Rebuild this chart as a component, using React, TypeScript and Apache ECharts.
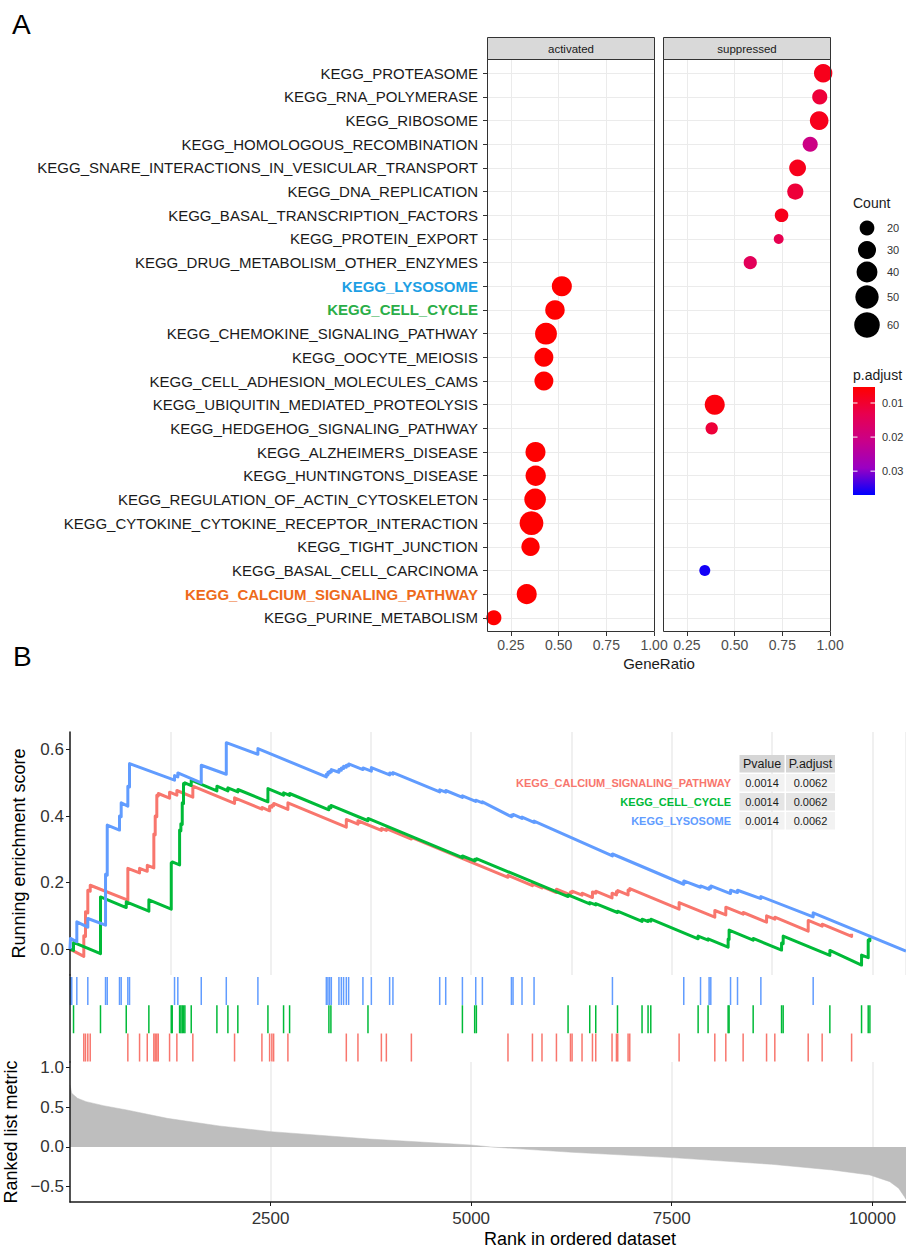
import React, { useEffect, useRef } from 'react';
import * as echarts from 'echarts';

const FONT = '"Liberation Sans", Arial, Helvetica, sans-serif';

// ---------------- Panel A data ----------------
const pathways = [
  'KEGG_PROTEASOME',
  'KEGG_RNA_POLYMERASE',
  'KEGG_RIBOSOME',
  'KEGG_HOMOLOGOUS_RECOMBINATION',
  'KEGG_SNARE_INTERACTIONS_IN_VESICULAR_TRANSPORT',
  'KEGG_DNA_REPLICATION',
  'KEGG_BASAL_TRANSCRIPTION_FACTORS',
  'KEGG_PROTEIN_EXPORT',
  'KEGG_DRUG_METABOLISM_OTHER_ENZYMES',
  'KEGG_LYSOSOME',
  'KEGG_CELL_CYCLE',
  'KEGG_CHEMOKINE_SIGNALING_PATHWAY',
  'KEGG_OOCYTE_MEIOSIS',
  'KEGG_CELL_ADHESION_MOLECULES_CAMS',
  'KEGG_UBIQUITIN_MEDIATED_PROTEOLYSIS',
  'KEGG_HEDGEHOG_SIGNALING_PATHWAY',
  'KEGG_ALZHEIMERS_DISEASE',
  'KEGG_HUNTINGTONS_DISEASE',
  'KEGG_REGULATION_OF_ACTIN_CYTOSKELETON',
  'KEGG_CYTOKINE_CYTOKINE_RECEPTOR_INTERACTION',
  'KEGG_TIGHT_JUNCTION',
  'KEGG_BASAL_CELL_CARCINOMA',
  'KEGG_CALCIUM_SIGNALING_PATHWAY',
  'KEGG_PURINE_METABOLISM',
];
const direction = [
  'suppressed', 'suppressed', 'suppressed', 'suppressed', 'suppressed', 'suppressed',
  'suppressed', 'suppressed', 'suppressed', 'activated', 'activated', 'activated',
  'activated', 'activated', 'suppressed', 'suppressed', 'activated', 'activated',
  'activated', 'activated', 'activated', 'suppressed', 'activated', 'activated',
];
const geneRatio = [
  0.964, 0.946, 0.943, 0.896, 0.83, 0.818, 0.746, 0.731, 0.582, 0.517, 0.481, 0.434,
  0.423, 0.423, 0.396, 0.38, 0.379, 0.38, 0.377, 0.358, 0.353, 0.344, 0.333, 0.161,
];
const geneCount = [31, 21, 32, 21, 26, 24, 17, 9, 16, 37, 35, 44, 33, 33, 37, 14, 37, 38, 43, 52, 31, 11, 37, 21];
const pAdjust = [
  0.008, 0.011, 0.008, 0.0205, 0.008, 0.011, 0.008, 0.0134, 0.0146, 0.0053, 0.0053, 0.0053,
  0.0053, 0.0053, 0.0065, 0.011, 0.0053, 0.0053, 0.0053, 0.0053, 0.0053, 0.036, 0.0053, 0.0053,
];
const highlightLabels: Record<string, { key: string; color: string }> = {
  KEGG_LYSOSOME: { key: 'lys', color: '#1D9FE4' },
  KEGG_CELL_CYCLE: { key: 'cc', color: '#2BAE48' },
  KEGG_CALCIUM_SIGNALING_PATHWAY: { key: 'ca', color: '#EE6A1B' },
};
const facets = ['activated', 'suppressed'];
const ratioTicks = [0.25, 0.5, 0.75, 1.0];
const countBreaks = [20, 30, 40, 50, 60];
const padjBreaks = [0.01, 0.02, 0.03];
const padjRange = [0.0053, 0.037];
const padjColors = ['#FF0000', '#E8004F', '#C90089', '#9A00C3', '#0000FF'];

// ---------------- Panel B data ----------------
const gseaNames = ['KEGG_CALCIUM_SIGNALING_PATHWAY', 'KEGG_CELL_CYCLE', 'KEGG_LYSOSOME'];
const gseaColors = ['#F8766D', '#00BA38', '#619CFF'];
const pvalues = ['0.0014', '0.0014', '0.0014'];
const padjusts = ['0.0062', '0.0062', '0.0062'];

const esCalcium = [
  [0, 0], [172, -0.022], [172, 0.04], [193, 0.038], [193, 0.112], [222, 0.109], [222, 0.177],
  [252, 0.174], [252, 0.192], [721, 0.147], [721, 0.243], [867, 0.229], [867, 0.243],
  [963, 0.234], [963, 0.252], [1045, 0.244], [1045, 0.346], [1062, 0.344], [1062, 0.4],
  [1082, 0.398], [1082, 0.463], [1100, 0.461], [1100, 0.468], [1241, 0.454], [1241, 0.472],
  [1332, 0.463], [1332, 0.477], [1531, 0.457], [1531, 0.49], [2051, 0.438], [2051, 0.455],
  [2392, 0.421], [2392, 0.426], [2488, 0.416], [2488, 0.43], [2516, 0.427], [2516, 0.433],
  [2538, 0.431], [2538, 0.438], [2716, 0.42], [2716, 0.44], [3444, 0.367], [3444, 0.39],
  [3589, 0.376], [3589, 0.386], [3881, 0.357], [3881, 0.363], [3943, 0.357], [3943, 0.362],
  [4255, 0.331], [4255, 0.336], [5459, 0.216], [5459, 0.222], [5764, 0.191], [5764, 0.196],
  [5883, 0.184], [5883, 0.188], [6063, 0.17], [6063, 0.18], [6238, 0.163], [6238, 0.172],
  [6258, 0.17], [6258, 0.174], [6382, 0.162], [6382, 0.168], [6512, 0.155], [6512, 0.172],
  [6553, 0.168], [6553, 0.174], [6756, 0.154], [6756, 0.168], [6811, 0.163], [6811, 0.173],
  [6827, 0.171], [6827, 0.176], [6956, 0.163], [6956, 0.178], [6977, 0.176], [6977, 0.182],
  [7592, 0.12], [7592, 0.14], [8037, 0.096], [8037, 0.116], [8174, 0.103], [8174, 0.126],
  [8390, 0.105], [8390, 0.11], [8682, 0.081], [8682, 0.1], [8785, 0.09], [8785, 0.096],
  [9201, 0.054], [9201, 0.086], [9375, 0.069], [9375, 0.075], [9742, 0.038], [9742, 0.046],
];
const esCellCycle = [
  [0, 0], [44, -0.004], [44, 0.02], [380, -0.014], [380, 0.157], [701, 0.125], [701, 0.142],
  [983, 0.114], [983, 0.148], [1262, 0.12], [1262, 0.26], [1274, 0.259], [1274, 0.262],
  [1366, 0.253], [1366, 0.358], [1382, 0.356], [1382, 0.377], [1399, 0.375], [1399, 0.44],
  [1415, 0.438], [1415, 0.498], [1432, 0.496], [1432, 0.5], [1511, 0.492], [1511, 0.508],
  [1831, 0.476], [1831, 0.49], [1968, 0.476], [1968, 0.485], [2092, 0.473], [2092, 0.48],
  [2467, 0.443], [2467, 0.483], [2662, 0.463], [2662, 0.47], [2737, 0.462], [2737, 0.468],
  [3227, 0.419], [3227, 0.428], [3252, 0.425], [3252, 0.432], [3714, 0.386], [3714, 0.393],
  [4891, 0.275], [4891, 0.28], [5044, 0.265], [5044, 0.27], [5065, 0.268], [5065, 0.272],
  [6208, 0.158], [6208, 0.163], [6478, 0.136], [6478, 0.14], [6553, 0.133], [6553, 0.137],
  [6824, 0.11], [6824, 0.114], [7130, 0.083], [7130, 0.09], [7205, 0.083], [7205, 0.087],
  [7239, 0.084], [7239, 0.09], [7829, 0.031], [7829, 0.039], [7953, 0.027], [7953, 0.031],
  [8203, 0.006], [8203, 0.03], [8215, 0.029], [8215, 0.057], [8515, 0.027], [8515, 0.032],
  [8869, -0.003], [8869, 0.018], [8889, 0.016], [8889, 0.039], [9471, -0.019], [9471, -0.004],
  [9866, -0.048], [9866, -0.018], [9949, -0.026], [9949, 0.027], [9970, 0.025], [9970, 0.035],
];
const esLysosome = [
  [0, 0], [6, 0], [6, 0.032], [85, 0.022], [85, 0.082], [222, 0.066], [222, 0.092],
  [443, 0.072], [443, 0.225], [464, 0.222], [464, 0.373], [617, 0.358], [617, 0.4],
  [638, 0.398], [638, 0.44], [721, 0.43], [721, 0.49], [742, 0.488], [742, 0.558],
  [1303, 0.508], [1303, 0.522], [1344, 0.518], [1344, 0.53], [1636, 0.5], [1636, 0.553],
  [1948, 0.526], [1948, 0.621], [2342, 0.586], [2342, 0.603], [3195, 0.518], [3195, 0.526],
  [3215, 0.524], [3215, 0.532], [3236, 0.53], [3236, 0.535], [3257, 0.533], [3257, 0.54],
  [3352, 0.532], [3352, 0.54], [3382, 0.538], [3382, 0.545], [3410, 0.543], [3410, 0.55],
  [3444, 0.547], [3444, 0.553], [3473, 0.551], [3473, 0.557], [3651, 0.54], [3651, 0.545],
  [3756, 0.535], [3756, 0.546], [3984, 0.524], [3984, 0.53], [4025, 0.526], [4025, 0.531],
  [4608, 0.473], [4608, 0.479], [4683, 0.472], [4683, 0.477], [4891, 0.456], [4891, 0.461],
  [5057, 0.444], [5057, 0.448], [5140, 0.44], [5140, 0.443], [5502, 0.398], [5502, 0.403],
  [5522, 0.401], [5522, 0.405], [5634, 0.393], [5634, 0.397], [5784, 0.381], [5784, 0.385],
  [6761, 0.28], [6761, 0.286], [7650, 0.195], [7650, 0.205], [7859, 0.186], [7859, 0.19],
  [7966, 0.18], [7966, 0.185], [7987, 0.183], [7987, 0.19], [8233, 0.167], [8233, 0.177],
  [8320, 0.17], [8320, 0.177], [8611, 0.152], [8611, 0.158], [9263, 0.097], [9263, 0.109],
  [10420, -0.006],
];

const hitsCalcium = [
  172, 193, 222, 252, 721, 867, 963, 1045, 1062, 1082, 1100, 1241, 1332, 1531, 2051, 2392,
  2488, 2516, 2538, 2716, 3444, 3589, 3881, 3943, 4255, 5459, 5764, 5883, 6063, 6238, 6258,
  6382, 6512, 6553, 6756, 6811, 6827, 6956, 6977, 7592, 8037, 8174, 8390, 8682, 8785, 9201,
  9375, 9742,
];
const hitsCellCycle = [
  44, 380, 701, 983, 1262, 1274, 1366, 1382, 1399, 1415, 1432, 1511, 1831, 1968, 2092, 2467,
  2662, 2737, 3227, 3252, 3714, 4891, 5044, 5065, 6208, 6478, 6553, 6824, 7130, 7205, 7239,
  7829, 7953, 8203, 8215, 8515, 8869, 8889, 9471, 9866, 9949, 9970,
];
const hitsLysosome = [
  6, 22, 85, 222, 443, 464, 617, 638, 721, 742, 1303, 1344, 1636, 1948, 2342, 3195, 3215,
  3236, 3257, 3352, 3382, 3410, 3444, 3473, 3651, 3756, 3984, 4025, 4608, 4683, 4891, 5057,
  5140, 5502, 5522, 5634, 5784, 6761, 7650, 7859, 7966, 7987, 8233, 8320, 8611, 9263,
];

const rankedMetric = [
  [0, 0.78], [22, 0.676], [94, 0.613], [202, 0.571], [418, 0.52], [707, 0.466], [1211, 0.361],
  [1860, 0.265], [2508, 0.193], [3734, 0.1], [4994, 0.025], [5247, 0], [6257, -0.067],
  [7504, -0.134], [8743, -0.218], [9500, -0.29], [9969, -0.353], [10218, -0.437],
  [10328, -0.52], [10400, -0.626], [10420, -0.66],
];

const esTicks = [0, 0.2, 0.4, 0.6];
const metricTicks = [-0.5, 0, 0.5, 1.0];
const rankTicks = [2500, 5000, 7500, 10000];
const rankMax = 10420;

// ---------------- helpers ----------------
const dotDiameter = (c: number) => 3.3 * Math.sqrt(c);
const padjToY = (v: number) => 387 + ((v - padjRange[0]) / (padjRange[1] - padjRange[0])) * 108;

function buildOption() {
  const idx = pathways.map((_, i) => i);
  const facetData = facets.map((f) =>
    idx.filter((i) => direction[i] === f).map((i) => [geneRatio[i], i, geneCount[i], pAdjust[i]])
  );

  const rich: Record<string, any> = {};
  Object.values(highlightLabels).forEach((h) => {
    rich[h.key] = { color: h.color, fontWeight: 'bold', fontSize: 15, fontFamily: FONT };
  });

  const yLabelFormatter = (v: number) => {
    if (!Number.isInteger(v)) return '';
    const name = pathways[v];
    if (!name) return '';
    const h = highlightLabels[name];
    return h ? `{${h.key}|${name}}` : name;
  };
  const ratioFormatter = (v: number) =>
    Math.abs(v * 4 - Math.round(v * 4)) < 1e-6 && v >= 0.25 ? v.toFixed(2) : '';

  const facetLeft = [487, 663];
  const facetWidth = 168;

  const grids: any[] = [
    { left: facetLeft[0], top: 59, width: facetWidth, height: 573 },
    { left: facetLeft[1], top: 59, width: facetWidth, height: 573 },
    { left: 70, top: 732, width: 836, height: 243 },
    { left: 70, top: 975, width: 836, height: 87 },
    { left: 70, top: 1062, width: 836, height: 140 },
  ].map((g) => ({ ...g, containLabel: false, outerBoundsMode: 'none', show: false }));

  const xAxes: any[] = facets.map((_, k) => ({
    gridIndex: k,
    type: 'value',
    min: 0.125,
    max: 1.005,
    interval: 0.125,
    axisLine: { show: false, onZero: false },
    axisTick: { show: true, customValues: ratioTicks, length: 4, lineStyle: { color: '#333', width: 1 } },
    axisLabel: {
      show: true,
      customValues: ratioTicks,
      formatter: ratioFormatter,
      fontSize: 14,
      color: '#4D4D4D',
      margin: 6,
      fontFamily: FONT,
      hideOverlap: false,
      showMinLabel: true,
      showMaxLabel: true,
    },
    splitLine: { show: true, lineStyle: { color: '#EBEBEB', width: 1 } },
  }));
  xAxes.push({
    gridIndex: 2, type: 'value', min: 0, max: rankMax, interval: 1250,
    axisLine: { show: false, onZero: false }, axisTick: { show: false }, axisLabel: { show: false },
    splitLine: { show: true, lineStyle: { color: '#EBEBEB', width: 1.5 } },
  });
  xAxes.push({
    gridIndex: 3, type: 'value', min: 0, max: rankMax, show: false,
    splitLine: { show: false },
  });
  xAxes.push({
    gridIndex: 4, type: 'value', min: 0, max: rankMax, interval: 1250,
    axisLine: { show: true, onZero: false, lineStyle: { color: '#1A1A1A', width: 1.5 } },
    axisTick: { show: true, customValues: rankTicks, length: 4, lineStyle: { color: '#1A1A1A', width: 1 } },
    axisLabel: {
      customValues: rankTicks, fontSize: 17, color: '#333', margin: 8, fontFamily: FONT,
      formatter: (v: number) => String(v), hideOverlap: false,
    },
    splitLine: { show: true, lineStyle: { color: '#EBEBEB', width: 1.5 } },
  });

  const yAxes: any[] = facets.map((_, k) => ({
    gridIndex: k,
    type: 'value',
    inverse: true,
    min: -0.6,
    max: 23.6,
    splitLine: { show: false },
    axisLine: { show: false, onZero: false },
    axisTick: { show: k === 0, customValues: idx, length: 4, lineStyle: { color: '#333', width: 1 } },
    axisLabel: {
      show: k === 0,
      customValues: idx,
      formatter: yLabelFormatter,
      fontSize: 15,
      color: '#1A1A1A',
      margin: 9,
      fontFamily: FONT,
      rich,
      hideOverlap: false,
    },
  }));
  yAxes.push({
    gridIndex: 2, type: 'value', min: -0.078, max: 0.653, z: 5,
    axisLine: { show: true, onZero: false, lineStyle: { color: '#1A1A1A', width: 1.5 } },
    axisTick: { show: true, customValues: esTicks, length: 4, lineStyle: { color: '#1A1A1A', width: 1 } },
    axisLabel: {
      customValues: esTicks, fontSize: 17, color: '#333', margin: 6, fontFamily: FONT,
      formatter: (v: number) => v.toFixed(1), hideOverlap: false,
    },
    splitLine: { show: false },
    name: 'Running enrichment score',
    nameLocation: 'middle',
    nameGap: 42,
    nameTextStyle: { fontSize: 18, color: '#000', fontFamily: FONT },
  });
  yAxes.push({
    gridIndex: 3, type: 'value', inverse: true, min: -0.565, max: 2.512, z: 5,
    axisLine: { show: true, onZero: false, lineStyle: { color: '#1A1A1A', width: 1.5 } },
    axisTick: { show: false }, axisLabel: { show: false }, splitLine: { show: false },
  });
  yAxes.push({
    gridIndex: 4, type: 'value', min: -0.693, max: 1.07, z: 5,
    axisLine: { show: true, onZero: false, lineStyle: { color: '#1A1A1A', width: 1.5 } },
    axisTick: { show: true, customValues: metricTicks, length: 4, lineStyle: { color: '#1A1A1A', width: 1 } },
    axisLabel: {
      customValues: metricTicks, fontSize: 17, color: '#333', margin: 6, fontFamily: FONT,
      formatter: (v: number) => (v < 0 ? '\u2212' + Math.abs(v).toFixed(1) : v.toFixed(1)),
      hideOverlap: false,
    },
    splitLine: { show: false },
    name: 'Ranked list metric',
    nameLocation: 'middle',
    nameGap: 42,
    nameTextStyle: { fontSize: 18, color: '#000', fontFamily: FONT },
  });

  const series: any[] = [];
  facets.forEach((f, k) => {
    series.push({
      type: 'scatter',
      name: f,
      xAxisIndex: k,
      yAxisIndex: k,
      data: facetData[k],
      symbol: 'circle',
      symbolSize: (v: number[]) => dotDiameter(v[2]),
      itemStyle: { opacity: 1 },
      z: 3,
      clip: false,
    });
  });
  facets.forEach((f, k) => {
    series.push({
      type: 'line',
      name: f + '-grid',
      xAxisIndex: k,
      yAxisIndex: k,
      data: [],
      z: 1,
      markLine: {
        silent: true,
        z: 1,
        symbol: ['none', 'none'],
        label: { show: false },
        lineStyle: { color: '#EBEBEB', width: 1, type: 'solid' },
        emphasis: { disabled: true },
        animation: false,
        data: idx.map((i) => ({ yAxis: i })),
      },
    });
  });

  const esData = [esCalcium, esCellCycle, esLysosome];
  esData.forEach((d, k) => {
    series.push({
      type: 'line',
      name: gseaNames[k],
      xAxisIndex: 2,
      yAxisIndex: 2,
      data: d,
      symbol: 'none',
      showSymbol: false,
      lineStyle: { width: 3, color: gseaColors[k], join: 'round' },
      itemStyle: { color: gseaColors[k] },
      z: 3 + k,
    });
  });
  const hits = [hitsLysosome, hitsCellCycle, hitsCalcium];
  const hitColors = [gseaColors[2], gseaColors[1], gseaColors[0]];
  hits.forEach((h, row) => {
    series.push({
      type: 'scatter',
      name: 'hits-' + row,
      xAxisIndex: 3,
      yAxisIndex: 3,
      data: h.map((r) => [r, row]),
      symbol: 'rect',
      symbolSize: [1.5, 28],
      itemStyle: { color: hitColors[row], opacity: 1 },
      z: 3,
    });
  });
  series.push({
    type: 'line',
    name: 'ranked',
    xAxisIndex: 4,
    yAxisIndex: 4,
    data: rankedMetric,
    symbol: 'none',
    showSymbol: false,
    lineStyle: { width: 0.5, color: '#BEBEBE' },
    areaStyle: { color: '#BEBEBE', opacity: 1 },
    z: 2,
  });

  // ---------- graphics ----------
  const txt = (
    text: string, x: number, y: number, size: number, opts: any = {}
  ) => ({
    type: 'text',
    x,
    y,
    z: 100,
    silent: true,
    style: {
      text,
      fontSize: size,
      fontFamily: FONT,
      fill: opts.fill || '#1A1A1A',
      fontWeight: opts.weight || 'normal',
      align: opts.align || 'left',
      verticalAlign: 'middle',
      textAlign: opts.align || 'left',
      textVerticalAlign: 'middle',
    },
  });

  const graphics: any[] = [];
  graphics.push(txt('A', 12, 24, 28, { fill: '#000' }));
  graphics.push(txt('B', 13, 656, 28, { fill: '#000' }));

  facets.forEach((f, k) => {
    const x0 = facetLeft[k] + 0.5;
    graphics.push({
      type: 'rect', z: 100, silent: true,
      shape: { x: x0, y: 37.5, width: facetWidth - 1, height: 22 },
      style: { fill: '#D9D9D9', stroke: '#333', lineWidth: 1 },
    });
    graphics.push(txt(f, facetLeft[k] + facetWidth / 2, 48.5, 11.5, { align: 'center' }));
    graphics.push({
      type: 'rect', z: 100, silent: true,
      shape: { x: x0, y: 59.5, width: facetWidth - 1, height: 572 },
      style: { fill: 'none', stroke: '#333', lineWidth: 1 },
    });
  });
  graphics.push(txt('GeneRatio', (facetLeft[0] + facetLeft[1] + facetWidth) / 2, 663, 15, { align: 'center' }));

  // Count legend
  graphics.push(txt('Count', 853, 203, 14));
  const countY = [228, 250, 272, 297, 325];
  countBreaks.forEach((c, i) => {
    graphics.push({
      type: 'circle', z: 100, silent: true,
      shape: { cx: 867, cy: countY[i], r: dotDiameter(c) / 2 },
      style: { fill: '#000' },
    });
    graphics.push(txt(String(c), 887, countY[i], 11, { fill: '#333' }));
  });

  // p.adjust legend
  graphics.push(txt('p.adjust', 853, 375, 14));
  graphics.push({
    type: 'rect', z: 100, silent: true,
    shape: { x: 853, y: 387, width: 22, height: 108 },
    style: {
      fill: new echarts.graphic.LinearGradient(
        0, 0, 0, 1,
        padjColors.map((c, i) => ({ offset: i / (padjColors.length - 1), color: c }))
      ),
    },
  });
  padjBreaks.forEach((b) => {
    const y = padjToY(b);
    graphics.push({
      type: 'line', z: 101, silent: true,
      shape: { x1: 853, y1: y, x2: 857.5, y2: y },
      style: { stroke: '#fff', lineWidth: 1 },
    });
    graphics.push({
      type: 'line', z: 101, silent: true,
      shape: { x1: 870.5, y1: y, x2: 875, y2: y },
      style: { stroke: '#fff', lineWidth: 1 },
    });
    graphics.push(txt(b.toFixed(2), 882, y, 11, { fill: '#333' }));
  });

  // table in panel B
  const colX = [739.5, 786];
  const colW = [45, 49];
  const rowY = [755, 774, 793, 812];
  const rowH = 17.5;
  const headers = ['Pvalue', 'P.adjust'];
  headers.forEach((h, c) => {
    graphics.push({
      type: 'rect', z: 100, silent: true,
      shape: { x: colX[c], y: rowY[0], width: colW[c], height: rowH },
      style: { fill: '#D6D6D6' },
    });
    graphics.push(txt(h, colX[c] + colW[c] / 2, rowY[0] + rowH / 2, 12.5, { align: 'center' }));
  });
  gseaNames.forEach((name, r) => {
    const y = rowY[r + 1];
    const fill = r % 2 === 0 ? '#F2F2F2' : '#E5E5E5';
    [pvalues[r], padjusts[r]].forEach((val, c) => {
      graphics.push({
        type: 'rect', z: 100, silent: true,
        shape: { x: colX[c], y, width: colW[c], height: rowH },
        style: { fill },
      });
      graphics.push(txt(val, colX[c] + colW[c] / 2, y + rowH / 2, 11, { align: 'center' }));
    });
    graphics.push(txt(name, 731, y + rowH / 2, 11, { align: 'right', fill: gseaColors[r], weight: 'bold' }));
  });

  graphics.push(txt('Rank in ordered dataset', 580, 1239, 18, { align: 'center', fill: '#000' }));

  return {
    animation: false,
    backgroundColor: '#ffffff',
    textStyle: { fontFamily: FONT },
    grid: grids,
    xAxis: xAxes,
    yAxis: yAxes,
    visualMap: [
      {
        type: 'continuous',
        show: false,
        min: padjRange[0],
        max: padjRange[1],
        dimension: 3,
        seriesIndex: [0, 1],
        inRange: { color: padjColors },
      },
    ],
    series,
    graphic: { elements: graphics },
  };
}

export default function App() {
  const ref = useRef<HTMLDivElement>(null);
  useEffect(() => {
    if (!ref.current) return;
    const chart = echarts.init(ref.current, null, { renderer: 'svg' });
    chart.setOption(buildOption() as any);
    return () => {
      chart.dispose();
    };
  }, []);
  return (
    <div
      ref={ref}
      style={{ position: 'absolute', left: 0, top: 0, width: 906, height: 1250, background: '#fff' }}
    />
  );
}
